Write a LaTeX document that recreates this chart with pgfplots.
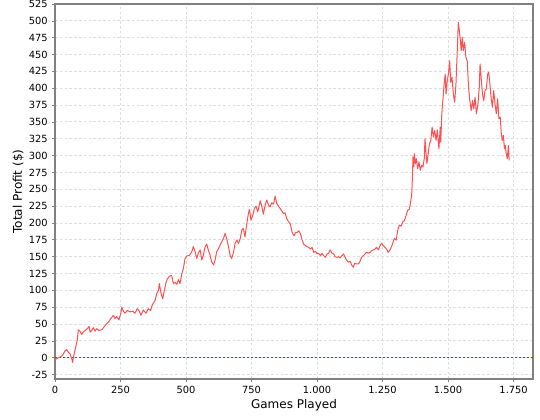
\documentclass[border=0pt]{standalone}
\usepackage{pgfplots}
\pgfplotsset{compat=1.18}
\usepackage{fontspec}
\setmainfont{DejaVu Sans}
\definecolor{linered}{RGB}{255,80,80}
\definecolor{gridgray}{RGB}{222,222,222}
\definecolor{axgray}{RGB}{128,128,128}
\definecolor{zeroblue}{RGB}{60,60,255}
\begin{document}
\begin{tikzpicture}[x=0.75pt,y=0.75pt]
\useasboundingbox (0,0) rectangle (540,420);
\begin{axis}[
  at={(55*0.75pt,41*0.75pt)}, anchor=south west,
  scale only axis,
  width=358.5pt, height=281.25pt,
  xmin=0, xmax=1824, ymin=-31.6, ymax=525,
  xtick={0,250,...,1750},
  ytick={-25,0,25,...,525},
  /pgf/number format/.cd, 1000 sep={.}, assume math mode=true,
  /pgfplots/.cd,
  tick label style={font=\fontsize{7.4}{8}\selectfont, text=black},
  xlabel={Games Played}, ylabel={Total Profit (\$)},
  label style={font=\fontsize{9}{10}\selectfont},
  xlabel style={yshift=3pt},
  ylabel style={yshift=-3pt},
  grid=major,
  major grid style={gridgray, dash pattern=on 2pt off 1.6pt, line width=0.6pt},
  axis line style={axgray, line width=0.8pt},
  tick style={axgray, line width=0.5pt},
  tick align=outside, major tick length=2pt,
  xtick pos=bottom, ytick pos=left,
  clip=true,
]
\addplot[zeroblue, dash pattern=on 1.5pt off 1.5pt, line width=0.6pt, forget plot] coordinates {(0,0) (1824,0)};
\addplot[linered, line width=0.75pt, line join=round] coordinates {
(0,-3) (8,-1) (19,1) (29,3.5) (38,10) (45,12) (51,8) (57,6) (64,-1.5) (67,-7)
(72,3.5) (80,18) (85,26) (89,41.5) (95,39.5) (102,34.6) (108,38) (115,40.5) (123,43) (130,46.5)
(134,38) (140,40.5) (146,44.5) (153,39.5) (159,43) (168,40.5) (178,41.5) (185,44.5) (195,49.5) (204,53)
(213,58) (223,63) (229,58) (235,61) (244,56) (251,66) (255,75) (261,69) (267,66) (276,70)
(286,68) (297,69) (305,66) (314,72.7) (322,69) (328,63) (337,71) (347,66) (356,72.7) (365,70)
(369,76) (375,81) (382,85) (388,95) (395,100) (398,110) (405,95) (411,87.5) (416,97.5) (424,112)
(429,117) (437,121) (445,122) (452,110) (458,112) (465,109) (471,116) (477,110) (484,124.6) (490,132.5)
(496,147) (503,151) (513,152) (522,157.3) (528,165) (535,157) (541,147.4) (547,155) (554,160) (560,145)
(566,152) (573,165) (579,168.6) (585,160) (592,152) (598,142.4) (605,137.5) (611,145) (617,157) (624,162.2)
(630,167) (636,172) (643,177) (649,184.5) (655,177) (662,165) (668,152) (674,147.4) (681,155.8) (687,169.6)
(694,174.6) (700,169.6) (706,175.6) (713,189.4) (719,191.9) (725,179.5) (732,199.3) (738,214.1) (742,220) (748,204.2)
(755,211.7) (761,221.6) (767,225) (774,216.6) (783,233) (789,225) (795,213) (802,226.5) (808,234) (815,226.5)
(821,224) (827,230) (834,228) (840,239.9) (846,229) (853,225) (859,221.6) (865,218) (872,214) (878,215)
(884,206.7) (891,201.8) (897,199.3) (905,186) (912,181) (918,186) (924,186) (931,188.3) (937,183.4) (943,174.6)
(949,168.7) (956,166.2) (962,164.8) (968,163.8) (975,161.3) (981,163.8) (987,156.4) (994,157.9) (1000,154) (1006,155)
(1013,151.5) (1019,155) (1025,151.5) (1032,149) (1038,154) (1044,155) (1050,159.9) (1057,155) (1063,154) (1069,150)
(1076,149) (1082,150) (1088,148) (1095,151.5) (1101,154) (1107,149) (1114,144.2) (1120,141.7) (1126,143.2) (1133,136.8)
(1139,134.4) (1143,140.2) (1149,139.3) (1158,139.3) (1164,143.2) (1170,149) (1177,151.5) (1183,154) (1189,156.4) (1196,155)
(1202,156.4) (1208,158.9) (1215,159.9) (1221,161.3) (1227,163.8) (1234,159.9) (1240,166.2) (1246,169.7) (1253,166.2) (1259,163.8)
(1265,161.3) (1271,156.4) (1278,159.9) (1283,164) (1289,170) (1295,177) (1302,174.6) (1308,189.4) (1314,196.8) (1321,195.3)
(1327,201.8) (1333,203.2) (1340,211.6) (1346,219) (1352,220) (1356,228.9) (1361,241.2) (1364,268.3) (1366,297.9) (1369,283.1)
(1371,302.8) (1375,288) (1379,295.4) (1384,280.6) (1389,290.5) (1394,278.1) (1399,285.6) (1404,283.1) (1409,295.4) (1412,325)
(1415,307.7) (1419,288) (1424,302.8) (1429,317.6) (1434,322.5) (1439,342.3) (1444,327.5) (1449,337.3) (1454,322.5) (1459,338.3)
(1465,310.2) (1470,342.3) (1472,320) (1476,362) (1480,381.7) (1485,406.3) (1489,421) (1492,391.6) (1497,411.3) (1502,423.6)
(1506,440.9) (1510,408.8) (1515,416.2) (1520,391.6) (1525,379.2) (1530,406.3) (1535,455.6) (1539,497.5) (1543,485.2) (1547,470.4)
(1550,455.6) (1554,475.4) (1558,455.6) (1563,468) (1568,445.8) (1573,440.9) (1578,401.4) (1583,381.7) (1588,366.9) (1593,381.7)
(1598,369.4) (1603,386.6) (1608,362) (1614,376.8) (1619,401.4) (1622,436) (1626,416.2) (1631,391.6) (1636,381.7) (1641,396.5)
(1646,399) (1651,421) (1655,423.6) (1659,408.8) (1664,386.6) (1669,371.8) (1674,396.5) (1679,376.8) (1684,362) (1689,384.2)
(1694,354.6) (1699,357) (1703,332.4) (1707,322.5) (1711,330) (1715,310.2) (1718,315.1) (1722,302.8) (1726,295.4) (1730,315.1)
(1733,293)
};
\end{axis}
\end{tikzpicture}
\end{document}
